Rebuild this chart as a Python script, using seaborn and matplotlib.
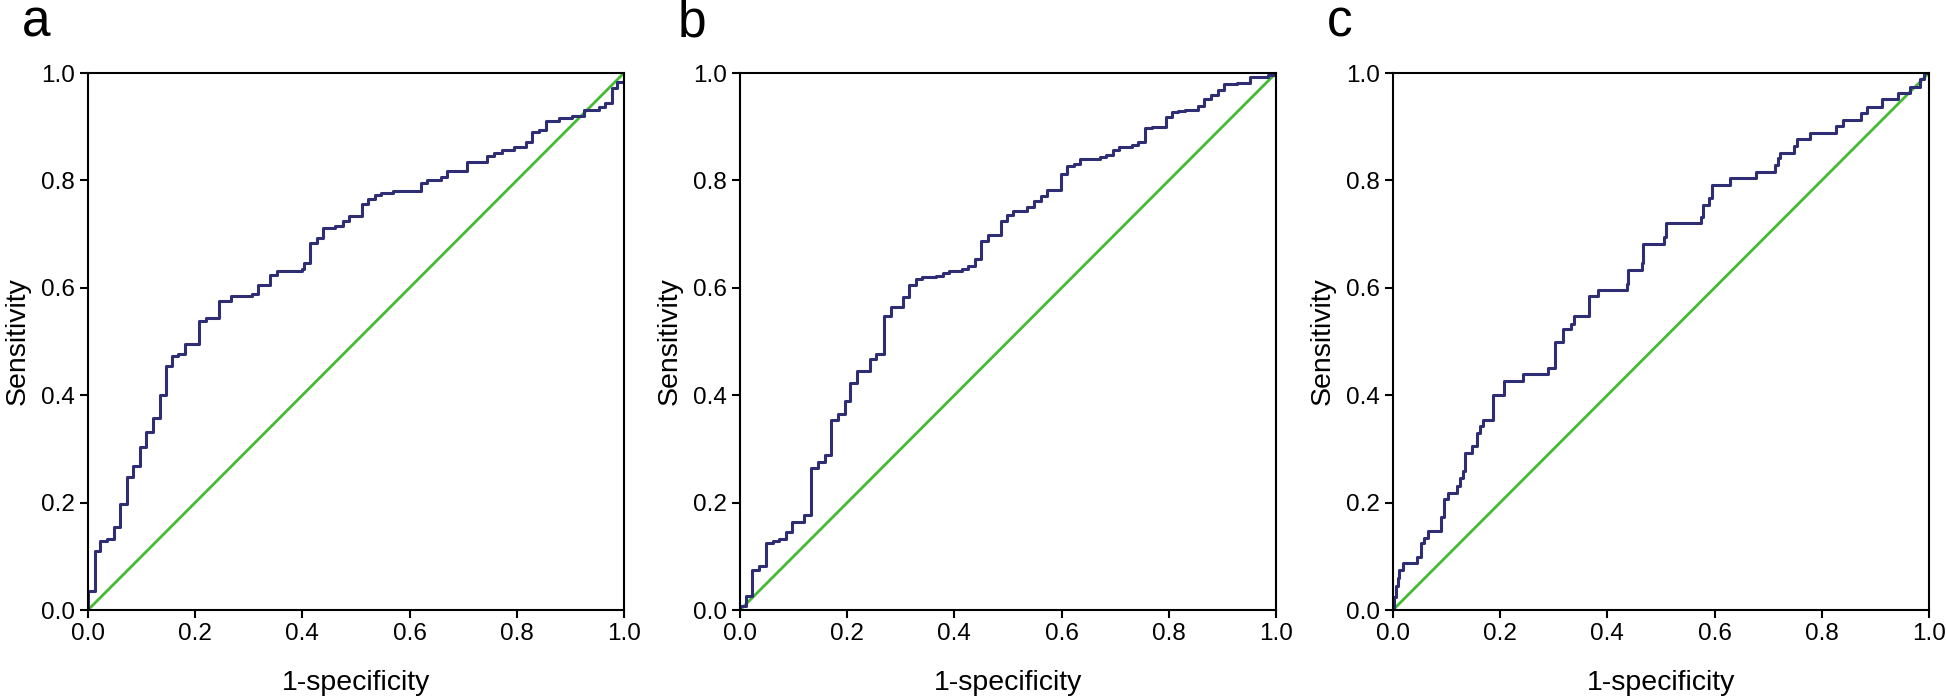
import matplotlib
matplotlib.use("Agg")
import matplotlib.pyplot as plt
import seaborn as sns

# ROC curves (1-specificity, sensitivity), step corners
fpr_a = [0, 0, 0.013, 0.023, 0.035, 0.048, 0.06, 0.072, 0.084, 0.097, 0.109, 0.122, 0.134,
         0.145, 0.157, 0.168, 0.181, 0.207, 0.22, 0.244, 0.267, 0.306, 0.317, 0.34, 0.352,
         0.4, 0.404, 0.414, 0.427, 0.439, 0.461, 0.475, 0.488, 0.511, 0.523, 0.536, 0.547,
         0.57, 0.621, 0.632, 0.658, 0.67, 0.707, 0.744, 0.758, 0.772, 0.795, 0.817, 0.829,
         0.841, 0.854, 0.878, 0.903, 0.926, 0.954, 0.965, 0.977, 0.988, 1.0]
tpr_a = [0, 0.036, 0.11, 0.129, 0.133, 0.155, 0.198, 0.247, 0.268, 0.303, 0.332, 0.358, 0.401,
         0.455, 0.473, 0.476, 0.495, 0.539, 0.544, 0.575, 0.585, 0.589, 0.606, 0.624, 0.632,
         0.636, 0.646, 0.684, 0.693, 0.711, 0.715, 0.724, 0.733, 0.757, 0.766, 0.772, 0.777,
         0.78, 0.795, 0.801, 0.807, 0.817, 0.834, 0.846, 0.852, 0.857, 0.863, 0.871, 0.89,
         0.894, 0.911, 0.916, 0.92, 0.931, 0.937, 0.944, 0.973, 0.983, 1.0]

fpr_b = [0, 0, 0.012, 0.023, 0.035, 0.048, 0.062, 0.073, 0.085, 0.097, 0.12, 0.132, 0.145,
         0.158, 0.17, 0.183, 0.195, 0.206, 0.218, 0.242, 0.254, 0.268, 0.281, 0.304, 0.316,
         0.328, 0.34, 0.366, 0.378, 0.389, 0.414, 0.425, 0.438, 0.45, 0.462, 0.486, 0.499,
         0.51, 0.536, 0.548, 0.561, 0.572, 0.598, 0.61, 0.623, 0.634, 0.671, 0.683, 0.695,
         0.707, 0.731, 0.743, 0.756, 0.768, 0.794, 0.806, 0.818, 0.83, 0.855, 0.866, 0.879,
         0.891, 0.903, 0.927, 0.952, 0.985, 1.0]
tpr_b = [0, 0.008, 0.026, 0.074, 0.082, 0.124, 0.128, 0.132, 0.146, 0.163, 0.177, 0.264, 0.276,
         0.289, 0.353, 0.365, 0.389, 0.423, 0.446, 0.467, 0.476, 0.547, 0.565, 0.583, 0.606,
         0.616, 0.621, 0.622, 0.627, 0.631, 0.635, 0.641, 0.654, 0.688, 0.698, 0.725, 0.735,
         0.744, 0.75, 0.761, 0.771, 0.782, 0.812, 0.827, 0.83, 0.839, 0.843, 0.847, 0.856,
         0.863, 0.866, 0.871, 0.897, 0.899, 0.919, 0.927, 0.93, 0.932, 0.938, 0.951, 0.96,
         0.969, 0.979, 0.981, 0.993, 0.996, 1.0]

fpr_c = [0, 0.002, 0.006, 0.009, 0.012, 0.018, 0.044, 0.052, 0.058, 0.066, 0.089, 0.095,
         0.102, 0.119, 0.126, 0.13, 0.134, 0.147, 0.157, 0.163, 0.168, 0.187, 0.207, 0.243,
         0.289, 0.302, 0.318, 0.333, 0.337, 0.365, 0.382, 0.436, 0.438, 0.464, 0.467, 0.505,
         0.509, 0.574, 0.578, 0.589, 0.595, 0.628, 0.677, 0.713, 0.719, 0.723, 0.748, 0.754,
         0.779, 0.827, 0.84, 0.874, 0.884, 0.913, 0.942, 0.965, 0.984, 0.99, 1.0]
tpr_c = [0, 0.025, 0.045, 0.06, 0.074, 0.087, 0.099, 0.124, 0.134, 0.147, 0.173, 0.206,
         0.218, 0.231, 0.245, 0.258, 0.293, 0.305, 0.33, 0.342, 0.354, 0.401, 0.427, 0.439,
         0.451, 0.499, 0.524, 0.532, 0.548, 0.585, 0.596, 0.608, 0.633, 0.646, 0.682, 0.695,
         0.72, 0.731, 0.754, 0.768, 0.791, 0.804, 0.816, 0.829, 0.841, 0.852, 0.864, 0.877,
         0.889, 0.901, 0.913, 0.926, 0.937, 0.951, 0.962, 0.974, 0.989, 1.0, 1.0]

panels = ["a", "b", "c"]
curves = [(fpr_a, tpr_a), (fpr_b, tpr_b), (fpr_c, tpr_c)]
ticks = [0.0, 0.2, 0.4, 0.6, 0.8, 1.0]

sns.set_style("ticks")
plt.rcParams["font.family"] = ["Liberation Sans", "DejaVu Sans"]
plt.rcParams["text.color"] = "black"
plt.rcParams["axes.labelcolor"] = "black"

fig = plt.figure(figsize=(19.46, 6.97), dpi=100)
lefts = [0.0452, 0.3803, 0.7158]
letter_x = [-0.124, -0.116, -0.124]

for left, lx, name, (fpr, tpr) in zip(lefts, letter_x, panels, curves):
    ax = fig.add_axes([left, 0.1248, 0.2754, 0.7704])
    # chance line, then the ROC staircase
    sns.lineplot(x=[0, 1], y=[0, 1], color="#44bb33", linewidth=2, ax=ax)
    sns.lineplot(x=fpr, y=tpr, color="#2f2d73", linewidth=2.2, drawstyle="steps-post",
                 estimator=None, sort=False, ax=ax)
    ax.set_xlim(0, 1)
    ax.set_ylim(0, 1)
    ax.set_xticks(ticks)
    ax.set_yticks(ticks)
    ax.set_xticklabels([f"{t:.1f}" for t in ticks])
    ax.set_yticklabels([f"{t:.1f}" for t in ticks])
    for sp in ax.spines.values():
        sp.set_visible(True)
        sp.set_linewidth(1.5)
        sp.set_color("black")
    ax.tick_params(length=6, width=1.5, labelsize=17.5, pad=3.5, colors="black")
    ax.set_xlabel("1-specificity", fontsize=20.5, labelpad=18)
    ax.set_ylabel("Sensitivity", fontsize=20.5, labelpad=7)
    ax.text(lx, 1.0686, name, transform=ax.transAxes, fontsize=37, va="baseline")

fig.savefig("out.png", dpi=100)
